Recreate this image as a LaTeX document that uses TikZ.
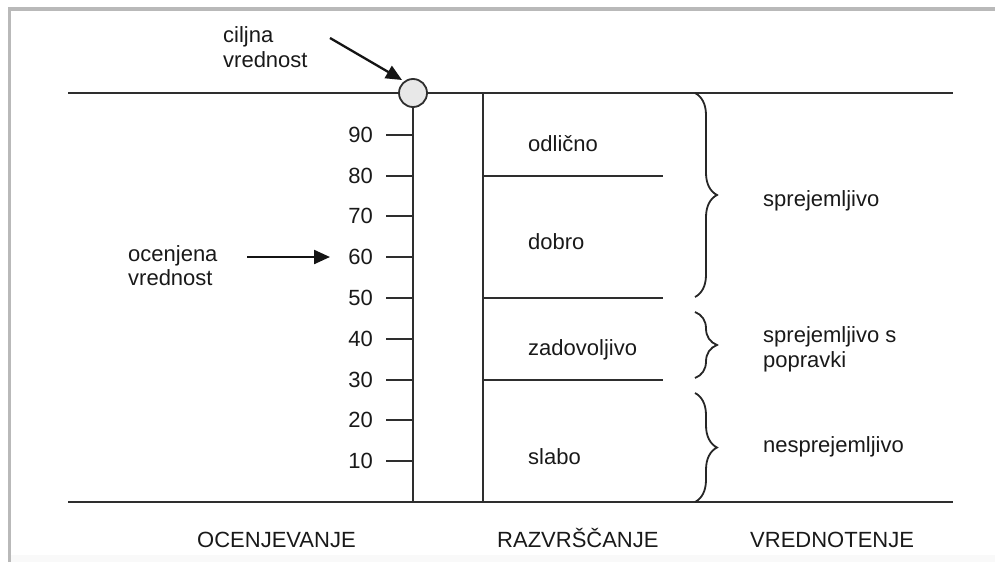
\documentclass[tikz,border=0pt]{standalone}
\usepackage{fontspec}
\setmainfont{Liberation Sans}
\usetikzlibrary{arrows.meta,decorations.pathreplacing}
\begin{document}
\begin{tikzpicture}[x=1pt,y=-1pt,
  rule/.style={line width=1.8pt, draw=black!82},
  lbl/.style={font=\fontsize{22}{25}\selectfont, text=black!90, inner sep=0pt},
  pointer/.style={line width=2.3pt, draw=black!92, -{Triangle[length=16pt,width=14pt]}},
  bracket/.style={line width=1.8pt, draw=black!85, decorate, decoration={brace, amplitude=22pt}},
]
\useasboundingbox (0,0) rectangle (995,562);
% page frame
\fill[gray!5] (11,555) rectangle (995,562);
\draw[gray!55, line width=3.5pt] (9.5,562) -- (9.5,9) -- (995,9);

% top and bottom rules
\coordinate (topL) at (68,93);   \coordinate (topR) at (953,93);
\coordinate (botL) at (68,502);  \coordinate (botR) at (953,502);
\draw[rule] (topL) -- (topR);
\draw[rule] (botL) -- (botR);

% target value marker on the scale
\node[circle, minimum size=28pt, inner sep=0pt, fill=black!9, rule] (circ) at (413,93) {};
\coordinate (scaleB) at (413,502);
\draw[rule] (circ.south) -- (scaleB);

% second column divider
\coordinate (divT) at (483,93); \coordinate (divB) at (483,502);
\draw[rule] (divT) -- (divB);

% scale ticks and numbers
\foreach \v in {10,20,...,90}{
  \pgfmathsetmacro{\ty}{round(502-4.08*\v)}
  \coordinate (t\v) at (386,\ty);
  \coordinate (s\v) at (413,\ty);
  \draw[rule] (t\v) -- (s\v);
  \node[lbl, anchor=east] (n\v) at (373,\ty) {\v};
}

% grade boundaries
\foreach \v in {80,50,30}{
  \pgfmathsetmacro{\ty}{round(502-4.08*\v)}
  \coordinate (g\v) at (483,\ty);
  \coordinate (h\v) at (663,\ty);
  \draw[rule] (g\v) -- (h\v);
}

% grade names
\node[lbl, anchor=base west] (odl) at (528,151) {odlično};
\node[lbl, anchor=base west] (dob) at (528,249) {dobro};
\node[lbl, anchor=base west] (zad) at (528,355) {zadovoljivo};
\node[lbl, anchor=base west] (sla) at (528,464) {slabo};

% braces grouping the grades
\coordinate (b1t) at (695,93);  \coordinate (b1b) at (695,297);
\coordinate (b2t) at (695,312); \coordinate (b2b) at (695,378);
\coordinate (b3t) at (695,393); \coordinate (b3b) at (695,502);
\draw[bracket] (b1t) -- (b1b);
\draw[bracket] (b2t) -- (b2b);
\draw[bracket] (b3t) -- (b3b);

% evaluation outcomes
\node[lbl, anchor=base west] (spr) at (763,206) {sprejemljivo};
\node[lbl, anchor=base west] (sps1) at (763,342) {sprejemljivo s};
\node[lbl, anchor=base west] (sps2) at (763,367) {popravki};
\node[lbl, anchor=base west] (nes) at (763,452) {nesprejemljivo};

% target value callout
\node[lbl, anchor=base west] (cil1) at (223,42) {ciljna};
\node[lbl, anchor=base west] (cil2) at (223,67) {vrednost};
\coordinate (ctail) at (330,38); \coordinate (ctip) at (402,80);
\draw[pointer] (ctail) -- (ctip);

% estimated value callout
\node[lbl, anchor=base west] (oce1) at (128,261) {ocenjena};
\node[lbl, anchor=base west] (oce2) at (128,285) {vrednost};
\coordinate (otail) at (247,257); \coordinate (otip) at (330,257);
\draw[pointer] (otail) -- (otip);

% column headings
\node[lbl, anchor=base west] (col1) at (197,547) {OCENJEVANJE};
\node[lbl, anchor=base west] (col2) at (497,547) {RAZVRŠČANJE};
\node[lbl, anchor=base west] (col3) at (750,547) {VREDNOTENJE};
\end{tikzpicture}
\end{document}
